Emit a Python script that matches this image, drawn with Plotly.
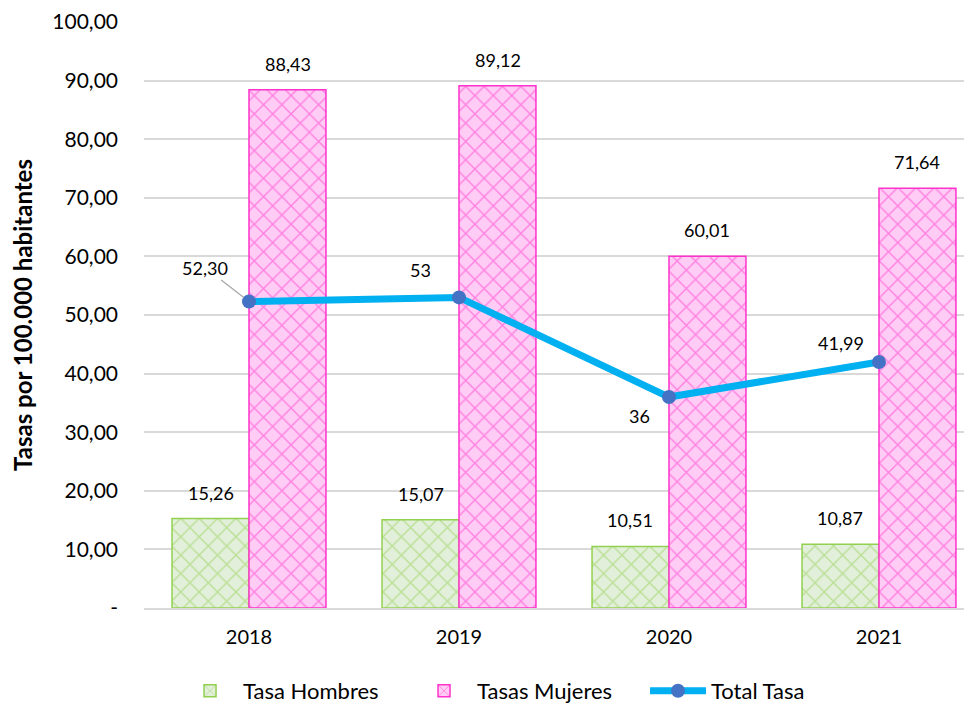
import plotly.graph_objects as go

years = ["2018", "2019", "2020", "2021"]
tasa_hombres = [15.26, 15.07, 10.51, 10.87]
tasas_mujeres = [88.43, 89.12, 60.01, 71.64]
total_tasa = [52.30, 53, 36, 41.99]
total_labels = ["52,30", "53", "36", "41,99"]
y_ticks = [0, 10, 20, 30, 40, 50, 60, 70, 80, 90, 100]
y_ticktext = ["-"] + [f"{v:.2f}".replace(".", ",") for v in y_ticks[1:]]

FONT = "Lato"

def fmt(v):
    return f"{v:.2f}".replace(".", ",")

fig = go.Figure()
fig.add_trace(go.Bar(
    x=years, y=tasa_hombres, name="Tasa Hombres",
    marker=dict(color="#E2EFDA", line=dict(color="#92D050", width=1.5),
                pattern=dict(shape="x", fgcolor="#92D050", bgcolor="#E2EFDA",
                             size=13, solidity=0.2)),
))
fig.add_trace(go.Bar(
    x=years, y=tasas_mujeres, name="Tasas Mujeres",
    marker=dict(color="#FFCCF5", line=dict(color="#FF33CC", width=1.5),
                pattern=dict(shape="x", fgcolor="#FF33CC", bgcolor="#FFCCF5",
                             size=13, solidity=0.2)),
))
fig.add_trace(go.Scatter(
    x=years, y=total_tasa, name="Total Tasa", mode="lines+markers",
    line=dict(color="#00B0F0", width=7),
    marker=dict(color="#4472C4", size=14),
))

LBL = dict(family=FONT, size=18, color="#000000")
annotations = []
for i, v in enumerate(tasa_hombres):
    annotations.append(dict(x=i, y=v, xref="x", yref="y", text=fmt(v), showarrow=False,
                            xshift=-38.5, yshift=13, yanchor="bottom", font=LBL))
for i, v in enumerate(tasas_mujeres):
    annotations.append(dict(x=i, y=v, xref="x", yref="y", text=fmt(v), showarrow=False,
                            xshift=38.5, yshift=13, yanchor="bottom", font=LBL))
label_offsets = [(-44, -34), (-39, -27), (-29, 19), (-38, -19)]
for i, (v, t) in enumerate(zip(total_tasa, total_labels)):
    dx, dy = label_offsets[i]
    if i == 0:
        annotations.append(dict(x=i, y=v, xref="x", yref="y", text=t, showarrow=True,
                                ax=dx, ay=dy, arrowhead=0, arrowwidth=1.2, arrowcolor="#A6A6A6",
                                standoff=7, font=LBL))
    else:
        annotations.append(dict(x=i, y=v, xref="x", yref="y", text=t, showarrow=False,
                                xshift=dx, yshift=-dy, font=LBL))

fig.update_layout(
    width=972, height=704,
    margin=dict(l=136, r=0, t=14, b=103),
    paper_bgcolor="white", plot_bgcolor="white",
    barmode="group", bargap=0.267, bargroupgap=0,
    font=dict(family=FONT, size=20, color="#000000"),
    annotations=annotations,
    showlegend=True,
    legend=dict(orientation="h", x=0.0395, xanchor="left", y=-0.1414, yanchor="middle",
                font=dict(family=FONT, size=22, color="#000000"), itemwidth=56,
                entrywidth=163, traceorder="normal"),
    xaxis=dict(type="category", range=[-0.5, 3.481], automargin=False,
               showgrid=False, showline=True, linecolor="#D9D9D9",
               linewidth=1.5, ticks="", tickfont=dict(family=FONT, size=20, color="#000000"),
               ticklabelstandoff=10),
    yaxis=dict(range=[0, 100], tickvals=y_ticks, ticktext=y_ticktext, automargin=False,
               showgrid=True, gridcolor="#D9D9D9", gridwidth=1.5, zeroline=False,
               tickfont=dict(family=FONT, size=21, color="#000000"), ticklabelstandoff=25,
               title=dict(text="<b>Tasas por 100.000 habitantes</b>",
                          font=dict(family=FONT, size=24, color="#000000"), standoff=14)),
)

fig.write_html("out.html")
